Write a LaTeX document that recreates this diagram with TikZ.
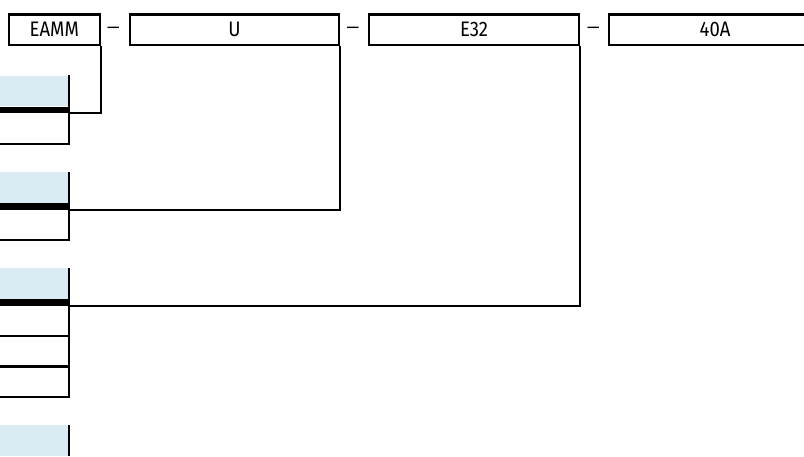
\documentclass[tikz,border=0pt]{standalone}
\usepackage{fontspec}
\setmainfont{Fira Sans}
\newfontfamily\codefont[FakeStretch=0.88]{Fira Sans}
\usepackage{xcolor}
\usetikzlibrary{positioning}
\definecolor{fieldblue}{HTML}{DAEBF4}

\begin{document}
\begin{tikzpicture}[x=1pt,y=-1pt]
\tikzset{
  codebox/.style={draw,line width=2.2pt,minimum height=30.5pt,inner sep=0pt,
    anchor=west,font=\codefont\fontsize{21}{21}\selectfont},
  field/.style={fill=fieldblue,inner sep=0pt,minimum width=80pt,
    minimum height=30.5pt,anchor=north east},
  bar/.style={fill=black,inner sep=0pt,minimum width=80pt,
    minimum height=6.5pt,anchor=north east},
  cell/.style={inner sep=0pt,minimum width=80pt,minimum height=30pt,
    anchor=north east},
  link/.style={line width=2.2pt},
  sep/.style={font=\codefont\fontsize{18}{18}\selectfont,inner sep=0pt}
}
\useasboundingbox (0,0) rectangle (804,457);
% order code boxes
\node [codebox,minimum width=91.5pt] (eamm) at (7.5,29.75) {EAMM};
\node [codebox,minimum width=209pt] (u) at (129,29.75) {U};
\node [codebox,minimum width=210pt] (e32) at (368,29.75) {E32};
\node [codebox,minimum width=212pt] (amp) at (608,29.75) {40A};
\node [sep] (s1) at (113.5,30) {—};
\node [sep] (s2) at (353,30) {—};
\node [sep] (s3) at (593.5,30) {—};
% fields on the left
\node [field] (f1) at (69,75.5) {};
\node [bar] (k1) at (f1.south east) {};
\node [cell] (c1) at (k1.south east) {};
\node [field] (f2) at (69,172) {};
\node [bar] (k2) at (f2.south east) {};
\node [cell] (c2) at (k2.south east) {};
\node [field] (f3) at (69,268) {};
\node [bar] (k3) at (f3.south east) {};
\node [cell] (c3) at (k3.south east) {};
\node [cell] (c4) at (c3.south east) {};
\node [cell] (c5) at (c4.south east) {};
\node [field] (f4) at (69,425) {};
\foreach \c in {c1,c2,c3,c4,c5}
  \draw [link] (\c.north east) |- (\c.south west);
\draw [link] (f1.north east) -- (c1.south east);
\draw [link] (f2.north east) -- (c2.south east);
\draw [link] (f3.north east) -- (c5.south east);
\draw [link] (f4.north east) -- (f4.south east);
% connectors
\draw [link] (eamm.south east) |- (k1.south east);
\draw [link] (u.south east) |- (k2.south east);
\draw [link] (e32.south east) |- (k3.south east);
\end{tikzpicture}
\end{document}
